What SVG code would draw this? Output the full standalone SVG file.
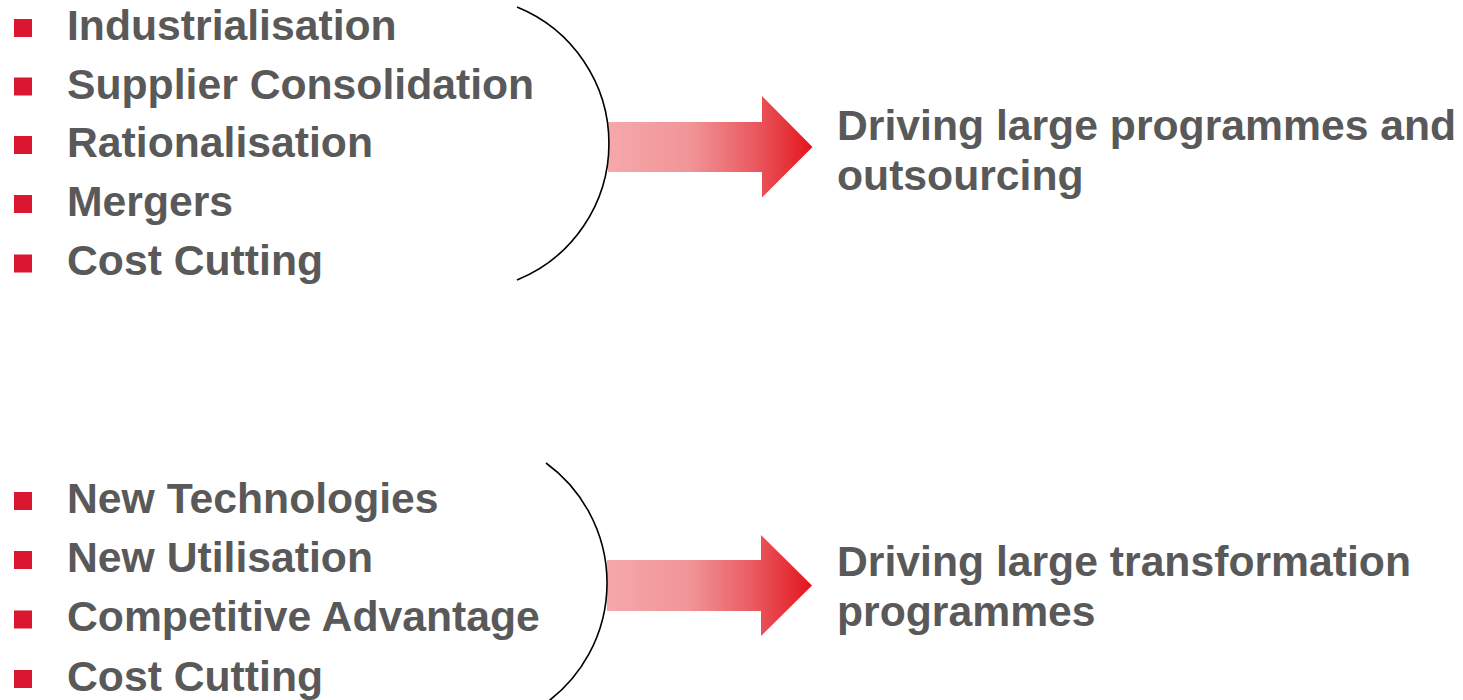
<svg xmlns="http://www.w3.org/2000/svg" width="1463" height="700" viewBox="0 0 1463 700">
  <style>
    .t { font-family: "Liberation Sans", Arial, sans-serif; font-weight: bold; font-size: 42.7px; fill: #595959; }
    .b { fill: #DA1630; }
    .arc { fill: none; stroke: #000; stroke-width: 1.6; }
    .arrow { fill: url(#g); }
  </style>
  <defs>
    <linearGradient id="g" x1="0" y1="0" x2="1" y2="0">
      <stop offset="0" stop-color="#F5A8AB"/>
      <stop offset="0.4" stop-color="#F19598"/>
      <stop offset="0.72" stop-color="#E9595F"/>
      <stop offset="1" stop-color="#E3141C"/>
    </linearGradient>
  </defs>
  <rect width="1463" height="700" fill="#fff"/>

  <g id="list1">
    <rect class="b" x="14" y="19" width="18" height="18"/>
    <rect class="b" x="14" y="77.5" width="18" height="18"/>
    <rect class="b" x="14" y="136" width="18" height="18"/>
    <rect class="b" x="14" y="195" width="18" height="18"/>
    <rect class="b" x="14" y="254.5" width="18" height="18"/>
    <text class="t" x="67" y="40">Industrialisation</text>
    <text class="t" x="67" y="98.5">Supplier Consolidation</text>
    <text class="t" x="67" y="157">Rationalisation</text>
    <text class="t" x="67" y="216">Mergers</text>
    <text class="t" x="67" y="275">Cost Cutting</text>
  </g>

  <g id="list2">
    <rect class="b" x="14" y="492" width="18" height="18"/>
    <rect class="b" x="14" y="551" width="18" height="18"/>
    <rect class="b" x="14" y="610.5" width="18" height="18"/>
    <rect class="b" x="14" y="670" width="18" height="18"/>
    <text class="t" x="67" y="512.5">New Technologies</text>
    <text class="t" x="67" y="571.5">New Utilisation</text>
    <text class="t" x="67" y="631">Competitive Advantage</text>
    <text class="t" x="67" y="690.5">Cost Cutting</text>
  </g>

  <g id="result1">
    <text class="t" x="837" y="139.5">Driving large programmes and</text>
    <text class="t" x="837" y="189.5">outsourcing</text>
  </g>

  <g id="result2">
    <text class="t" x="837" y="575.5">Driving large transformation</text>
    <text class="t" x="837" y="625.5">programmes</text>
  </g>

  <g id="connectors">
    <path class="arrow" d="M608,122 H762 V96 L812.5,147 L762,197.5 V172 H608 Z"/>
    <path class="arrow" d="M607,560 H761 V535 L812,585.5 L761,636 V611 H607 Z"/>
    <path class="arc" d="M517,7 A147.3,147.3 0 0 1 517,280"/>
    <path class="arc" d="M546,463 A148.5,148.5 0 0 1 546,703"/>
  </g>
</svg>
